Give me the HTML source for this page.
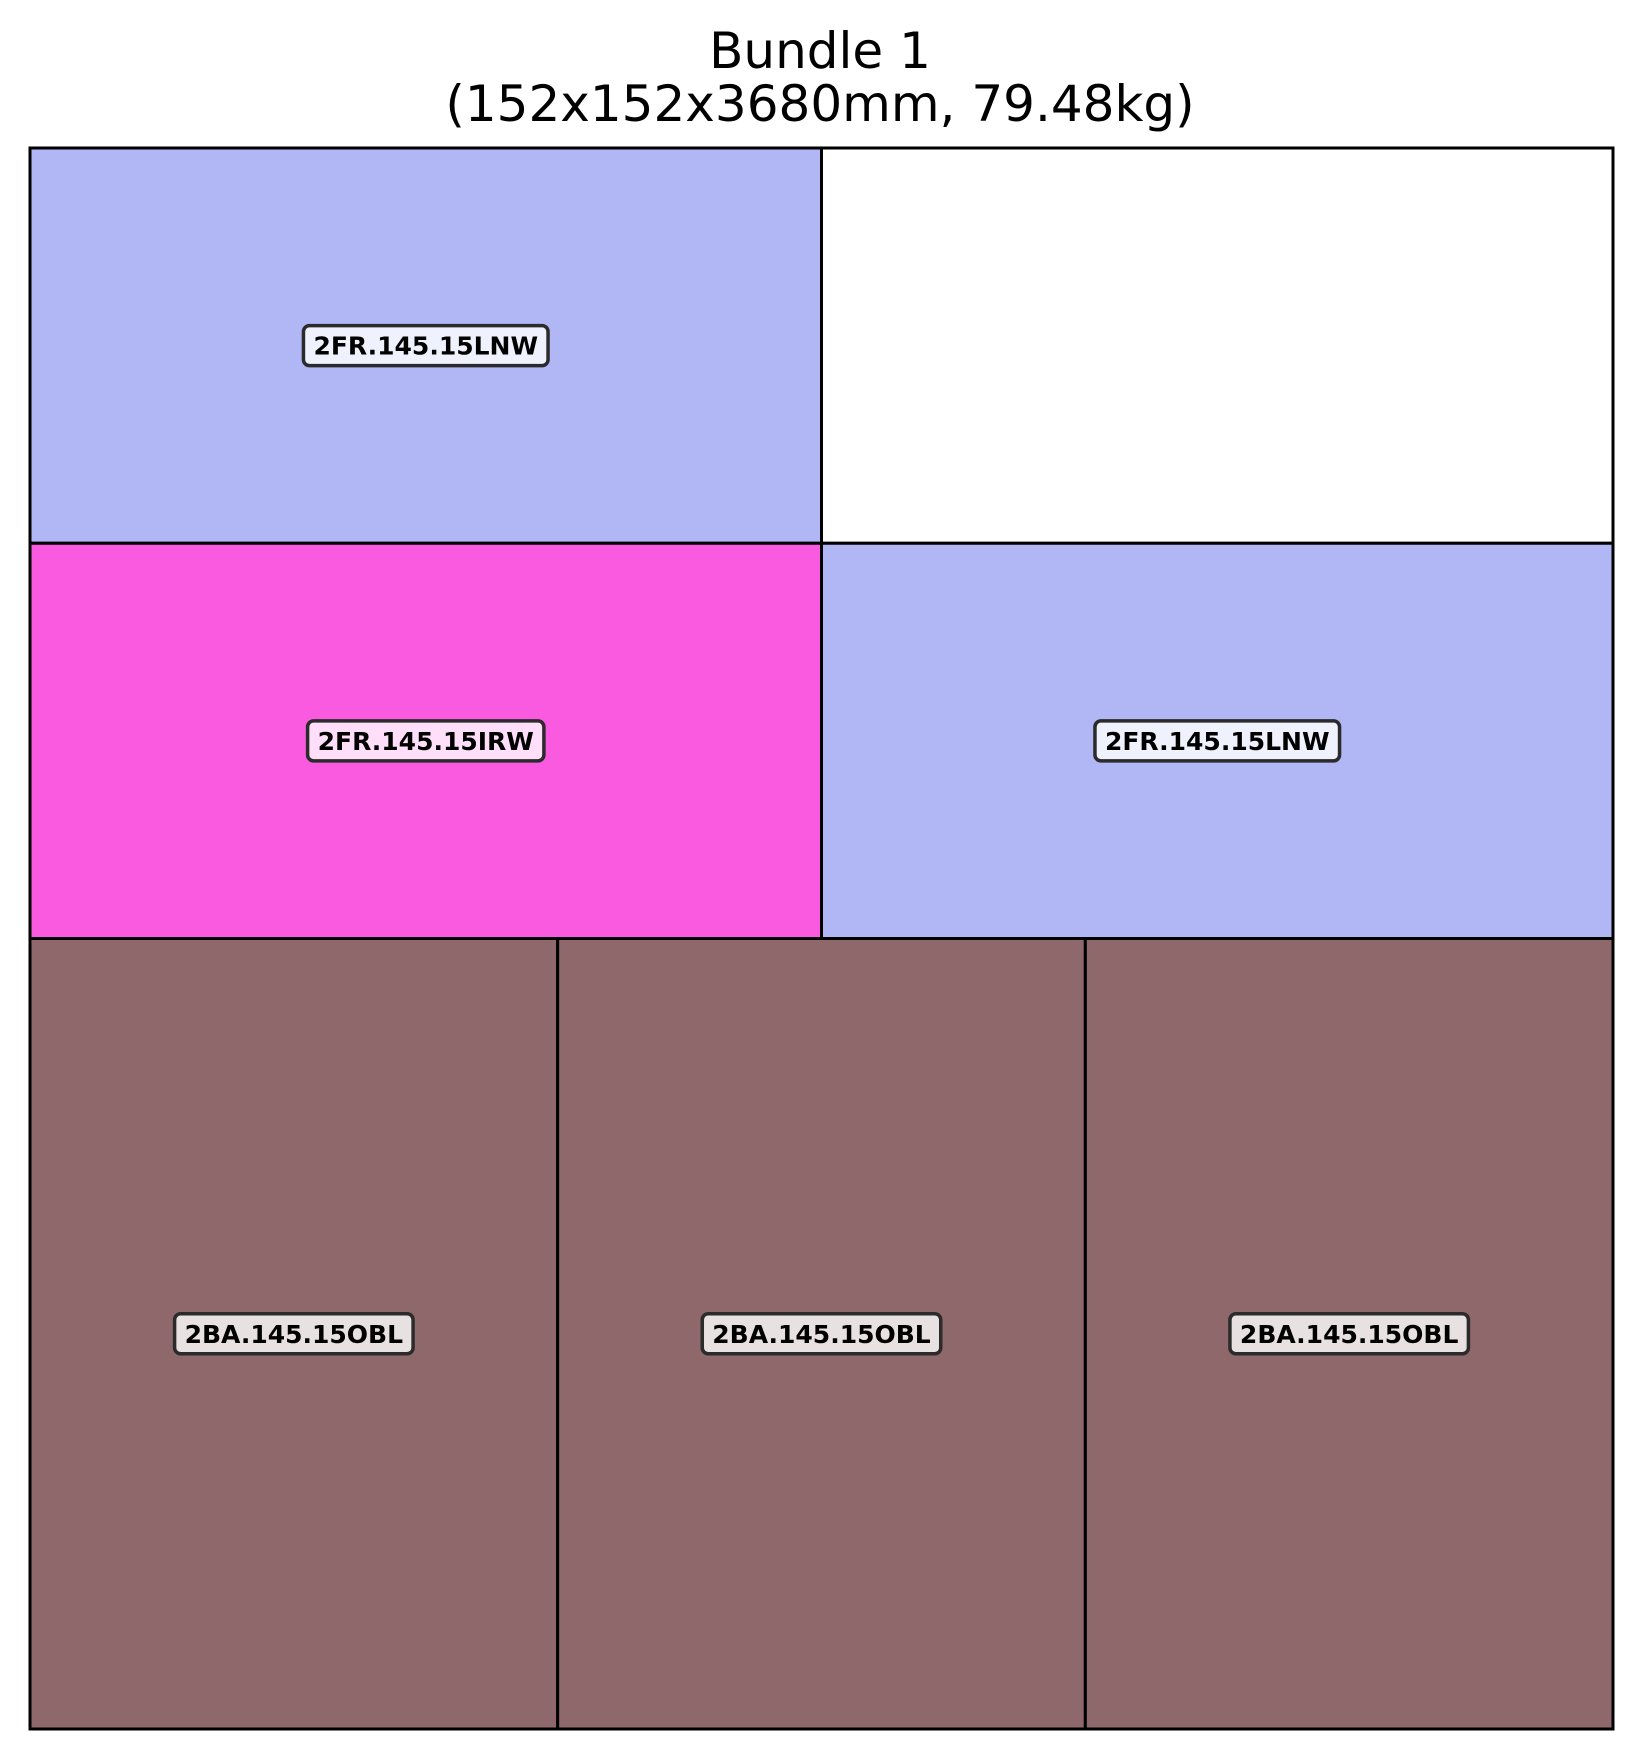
<!DOCTYPE html>
<html><head><meta charset="utf-8"><style>
html,body{margin:0;padding:0;background:#fff;width:1640px;height:1759px;overflow:hidden}
svg{display:block}
</style></head><body>
<svg id="chart" width="1640" height="1759" viewBox="0 0 1640 1759">
<text x="820" y="68" text-anchor="middle" font-family="DejaVu Sans, Liberation Sans, sans-serif" font-size="50">Bundle 1</text>
<text x="820" y="121" text-anchor="middle" font-family="DejaVu Sans, Liberation Sans, sans-serif" font-size="50">(152x152x3680mm, 79.48kg)</text>
<g id="cells"></g>
<g id="labels"></g>
<rect x="30" y="148" width="1583" height="1581" fill="none" stroke="#000" stroke-width="3"/>
</svg>
<script>
const pieceNames = ["2FR.145.15LNW","2FR.145.15IRW","2FR.145.15LNW","2BA.145.15OBL","2BA.145.15OBL","2BA.145.15OBL"];
const pieceX = [0,0,76,0,50.667,101.333];
const pieceY = [0,38,38,76,76,76];
const pieceW = [76,76,76,50.667,50.667,50.667];
const pieceH = [38,38,38,76,76,76];
const pieceColors = ["#b0b7f4","#f95ae0","#b0b7f4","#8e686b","#8e686b","#8e686b"];
const emptyX = [76], emptyY = [0], emptyW = [76], emptyH = [38];

const L=30,T=148,PW=1583,PH=1581,SX=152,SY=152;
const sx=v=>L+v/SX*PW, sy=v=>T+v/SY*PH;
const NS="http://www.w3.org/2000/svg";
const cells=document.getElementById('cells'), labels=document.getElementById('labels');

for(let i=0;i<emptyX.length;i++){
  const r=document.createElementNS(NS,'rect');
  r.setAttribute('x',sx(emptyX[i]));r.setAttribute('y',sy(emptyY[i]));
  r.setAttribute('width',sx(emptyX[i]+emptyW[i])-sx(emptyX[i]));
  r.setAttribute('height',sy(emptyY[i]+emptyH[i])-sy(emptyY[i]));
  r.setAttribute('fill','#fff');r.setAttribute('stroke','#000');r.setAttribute('stroke-width','3');
  
  
  cells.appendChild(r);
}
for(let i=0;i<pieceNames.length;i++){
  const x0=sx(pieceX[i]),y0=sy(pieceY[i]),x1=sx(pieceX[i]+pieceW[i]),y1=sy(pieceY[i]+pieceH[i]);
  const r=document.createElementNS(NS,'rect');
  r.setAttribute('x',x0);r.setAttribute('y',y0);r.setAttribute('width',x1-x0);r.setAttribute('height',y1-y0);
  r.setAttribute('fill',pieceColors[i]);r.setAttribute('stroke','#000');r.setAttribute('stroke-width','3');
  
  
  cells.appendChild(r);
  const cx=(x0+x1)/2, cy=(y0+y1)/2;
  const t=document.createElementNS(NS,'text');
  t.setAttribute('x',cx);t.setAttribute('y',cy+9);t.setAttribute('text-anchor','middle');
  t.setAttribute('font-family','DejaVu Sans, Liberation Sans, sans-serif');
  t.setAttribute('font-weight','bold');t.setAttribute('font-size','25');
  t.textContent=pieceNames[i];
  
  
  labels.appendChild(t);
  const w=t.getComputedTextLength();
  const b=document.createElementNS(NS,'rect');
  b.setAttribute('x',cx-w/2-10);b.setAttribute('y',cy-20);b.setAttribute('width',w+20);b.setAttribute('height',40);
  b.setAttribute('rx',6);b.setAttribute('fill','rgba(255,255,255,0.8)');
  b.setAttribute('stroke','#2b2b2b');b.setAttribute('stroke-width','3.5');
  
  
  labels.insertBefore(b,t);
}
</script>
</body></html>
